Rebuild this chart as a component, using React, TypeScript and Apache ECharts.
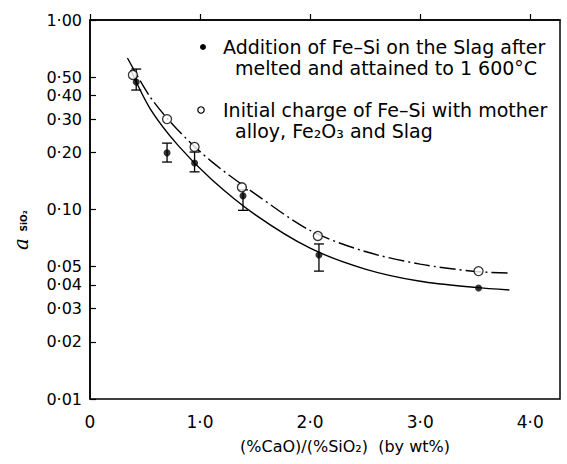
import React, { useEffect, useRef } from "react";
import * as echarts from "echarts";

// ---- data ----
const xTicks = [0, 1, 2, 3, 4];
const yTicks = [0.01, 0.02, 0.03, 0.04, 0.05, 0.1, 0.2, 0.3, 0.4, 0.5, 1];

// open circles: initial charge of Fe-Si with mother alloy, Fe2O3 and slag
const openX = [0.39, 0.7, 0.95, 1.38, 2.07, 3.53];
const openY = [0.513, 0.3, 0.214, 0.131, 0.0725, 0.0473];

// filled circles: addition of Fe-Si on the slag after melting
const filledX = [0.42, 0.7, 0.95, 1.39, 2.08, 3.53];
const filledY = [0.471, 0.199, 0.176, 0.118, 0.0575, 0.0385];

// error bars (filled series)
const errX = [0.42, 0.7, 0.95, 1.39, 2.08];
const errLow = [0.427, 0.178, 0.158, 0.099, 0.0473];
const errHigh = [0.551, 0.224, 0.201, 0.127, 0.0658];

// fitted curves
const dashX = [0.34, 0.55, 0.8, 1.1, 1.5, 2.0, 2.5, 3.0, 3.5, 3.81];
const dashY = [0.63, 0.39, 0.262, 0.18, 0.121, 0.0775, 0.06, 0.0515, 0.0471, 0.0462];
const solidX = [0.37, 0.55, 0.8, 1.1, 1.5, 2.0, 2.5, 3.0, 3.5, 3.81];
const solidY = [0.545, 0.338, 0.218, 0.145, 0.094, 0.0625, 0.0485, 0.0418, 0.0388, 0.0376];

const legendLines = [
  "Addition of Fe\u2013Si on the Slag after",
  "melted and attained to 1 600\u00b0C",
  "Initial charge of Fe\u2013Si with mother",
  "alloy, Fe\u2082O\u2083 and Slag",
];
const xName = "(%CaO)/(%SiO\u2082)  (by wt%)";

const FONT = "DejaVu Sans";
const fmtDot = (s: string) => s.replace(".", "\u00b7");

export default function App() {
  const ref = useRef<HTMLDivElement>(null);
  useEffect(() => {
    if (!ref.current) return;
    const chart = echarts.init(ref.current, null, { renderer: "svg" });
    const black = "#000";
    const textStyle = { fill: black, font: `19px "${FONT}"` };
    chart.setOption({
      animation: false,
      backgroundColor: "#fff",
      grid: {
        left: 90,
        right: 7,
        top: 20,
        bottom: 65,
        show: true,
        borderColor: black,
        borderWidth: 1.5,
        backgroundColor: "transparent",
      },
      xAxis: {
        type: "value",
        min: 0,
        max: 4.27,
        axisLine: { show: true, lineStyle: { color: black, width: 1.5 } },
        axisTick: {
          show: true,
          inside: true,
          length: 6,
          customValues: xTicks,
          lineStyle: { color: black, width: 1.2 },
        },
        axisLabel: {
          customValues: xTicks,
          color: black,
          fontFamily: FONT,
          fontSize: 17,
          margin: 14,
          formatter: (v: number) => (v === 0 ? "0" : fmtDot(v.toFixed(1))),
        },
        splitLine: { show: false },
      },
      yAxis: [
        {
          type: "log",
          logBase: 10,
          min: 0.01,
          max: 1,
          position: "left",
          axisLine: { show: true, lineStyle: { color: black, width: 1.5 } },
          axisTick: { show: false },
          axisLabel: { show: false },
          minorTick: { show: false },
          splitLine: { show: false },
        },
        {
          type: "value",
          min: -2,
          max: 0,
          position: "left",
          axisLine: { show: false },
          axisTick: {
            show: true,
            inside: true,
            length: 6,
            customValues: yTicks.map((t) => Math.log10(t)),
            lineStyle: { color: black, width: 1.2 },
          },
          axisLabel: {
            customValues: yTicks.map((t) => Math.log10(t)),
            color: black,
            fontFamily: FONT,
            fontSize: 16,
            lineHeight: 16,
            margin: 8,
            formatter: (v: number) => fmtDot(Math.pow(10, v).toFixed(2)),
          },
          splitLine: { show: false },
        },
      ],
      series: [
        {
          type: "line",
          yAxisIndex: 0,
          data: dashX.map((x, i) => [x, dashY[i]]),
          smooth: 0.3,
          symbol: "none",
          lineStyle: { color: black, width: 1.4, type: [16, 4, 2, 4] },
          z: 2,
        },
        {
          type: "line",
          yAxisIndex: 0,
          data: solidX.map((x, i) => [x, solidY[i]]),
          smooth: 0.3,
          symbol: "none",
          lineStyle: { color: black, width: 1.4 },
          z: 2,
        },
        {
          type: "custom",
          yAxisIndex: 0,
          data: errX.map((x, i) => [x, errLow[i], errHigh[i]]),
          encode: { x: 0, y: [1, 2] },
          renderItem: (_params: any, api: any) => {
            const x = api.value(0);
            const p1 = api.coord([x, api.value(1)]);
            const p2 = api.coord([x, api.value(2)]);
            const w = 5;
            const st = { stroke: black, lineWidth: 1.3 };
            return {
              type: "group",
              children: [
                { type: "line", shape: { x1: p1[0], y1: p1[1], x2: p2[0], y2: p2[1] }, style: st },
                { type: "line", shape: { x1: p1[0] - w, y1: p1[1], x2: p1[0] + w, y2: p1[1] }, style: st },
                { type: "line", shape: { x1: p2[0] - w, y1: p2[1], x2: p2[0] + w, y2: p2[1] }, style: st },
              ],
            };
          },
          z: 3,
        },
        {
          type: "scatter",
          yAxisIndex: 0,
          data: filledX.map((x, i) => [x, filledY[i]]),
          symbol: "circle",
          symbolSize: 7,
          itemStyle: { color: black },
          z: 4,
        },
        {
          type: "scatter",
          yAxisIndex: 0,
          data: openX.map((x, i) => [x, openY[i]]),
          symbol: "circle",
          symbolSize: 9,
          itemStyle: { color: "#fff", borderColor: black, borderWidth: 1.3 },
          z: 5,
        },
      ],
      graphic: [
        { type: "circle", shape: { cx: 203, cy: 47, r: 3 }, style: { fill: black } },
        { type: "circle", shape: { cx: 201, cy: 110, r: 3.2 }, style: { fill: "#fff", stroke: black, lineWidth: 1.2 } },
        { type: "text", x: 223, y: 47, style: { ...textStyle, text: legendLines[0], verticalAlign: "middle" } },
        { type: "text", x: 235, y: 68, style: { ...textStyle, text: legendLines[1], verticalAlign: "middle" } },
        { type: "text", x: 223, y: 110, style: { ...textStyle, text: legendLines[2], verticalAlign: "middle" } },
        { type: "text", x: 235, y: 131, style: { ...textStyle, text: legendLines[3], verticalAlign: "middle" } },
        {
          type: "text",
          x: 345,
          y: 446,
          style: { fill: black, font: `16px "${FONT}"`, text: xName, align: "center", verticalAlign: "middle" },
        },
        {
          type: "text",
          x: 21,
          y: 244,
          rotation: Math.PI / 2,
          style: { fill: black, font: `italic 20px "DejaVu Serif"`, text: "a", align: "center", verticalAlign: "middle" },
        },
        {
          type: "text",
          x: 24,
          y: 221,
          rotation: Math.PI / 2,
          style: { fill: black, font: `bold 9px "${FONT}"`, text: "SiO\u2082", align: "center", verticalAlign: "middle" },
        },
      ],
    });
    return () => chart.dispose();
  }, []);
  return (
    <div
      ref={ref}
      style={{ position: "fixed", left: 0, top: 0, width: 567, height: 464 }}
    />
  );
}
